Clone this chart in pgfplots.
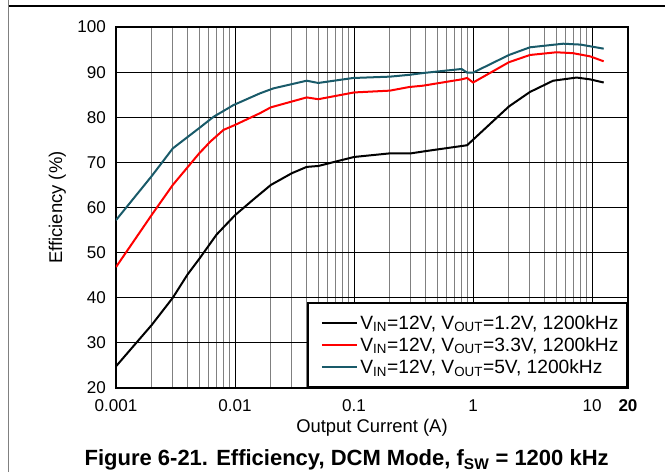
\documentclass[border=0pt]{standalone}
\usepackage{fontspec}
\setmainfont{Liberation Sans}
\usepackage{pgfplots}
\pgfplotsset{compat=1.18}
\definecolor{teal5}{RGB}{25,90,105}
\definecolor{mgrid}{RGB}{128,128,128}
\begin{document}
\begin{tikzpicture}
\useasboundingbox (0,0) rectangle (498.75pt,354pt);
\draw[mgrid, line width=1.1pt] (6.4pt,0) -- (6.4pt,354pt);
\draw[black, line width=0.8pt] (6.4pt,349.5pt) -- (498.75pt,349.5pt);
\node[font=\fontsize{16.5}{18}\selectfont\bfseries] at (260pt,9pt) {Figure 6-21. Efficiency, DCM Mode, f\textsubscript{SW} = 1200 kHz};
\begin{axis}[
  at={(87pt,63pt)}, anchor=south west,
  scale only axis, width=384pt, height=270.75pt,
  xmode=log, xmin=0.001, xmax=20, ymin=20, ymax=100,
  log basis x=10,
  xtick={0.001,0.01,0.1,1,10,20},
  xticklabels={0.001,0.01,0.1,1,10,\textbf{20}},
  minor xtick={0.002,0.003,0.004,0.005,0.006,0.007,0.008,0.009,0.02,0.03,0.04,0.05,0.06,0.07,0.08,0.09,0.2,0.3,0.4,0.5,0.6,0.7,0.8,0.9,2,3,4,5,6,7,8,9},
  ytick={20,30,40,50,60,70,80,90,100},
  /pgf/number format/assume math mode=true,
  tick label style={font=\fontsize{12.8}{14}\selectfont},
  label style={font=\fontsize{13.8}{15}\selectfont},
  major tick length=0pt, minor tick length=0pt,
  grid=both,
  major grid style={black, line width=0.7pt},
  minor grid style={mgrid, line width=0.75pt},
  axis line style={line width=1.6pt},
  yticklabel style={xshift=-4pt},
  xticklabel style={yshift=-5pt},
  xlabel={Output Current (A)},
  ylabel={Efficiency (\%)},
  xlabel style={at={(axis description cs:0.5,-0.111)}, anchor=center},
  ylabel style={at={(axis description cs:-0.1146,0.5)}, anchor=center, rotate=0},
  legend cell align=left,
  legend style={at={(1,0)}, anchor=south east, draw=black, line width=1.3pt,
    font=\fontsize{14.4}{16.5}\selectfont, inner xsep=4.5pt, inner ysep=7pt, row sep=0.6pt,
    /tikz/every even column/.append style={column sep=1.5pt}},
  legend image code/.code={\draw[#1, line width=1.6pt] (0pt,0pt) ++(5pt,0pt) -- ++(26pt,0pt);},
]
\addplot[black, line width=1.5pt] coordinates {
(0.001,24.8) (0.002,34.0) (0.003,40.0) (0.004,45.2) (0.005,48.6) (0.007,54.0) (0.01,58.3) (0.014,61.6) (0.02,65.0) (0.03,67.6) (0.04,69.0) (0.05,69.2) (0.1,71.2) (0.2,72.0) (0.3,72.0) (0.4,72.5) (0.89,73.8) (2,82.4) (3,85.6) (4.7,88.1) (7.4,88.8) (9.6,88.4) (12.5,87.7)
};
\addlegendentry{V\textsubscript{IN}=12V, V\textsubscript{OUT}=1.2V, 1200kHz}
\addplot[red, line width=1.5pt] coordinates {
(0.001,46.8) (0.002,58.4) (0.003,65.0) (0.005,72.0) (0.0062,74.6) (0.008,77.2) (0.01,78.3) (0.0162,80.9) (0.02,82.2) (0.04,84.4) (0.05,84.0) (0.1,85.5) (0.2,85.9) (0.29,86.7) (0.38,87.0) (0.8,88.4) (0.89,88.7) (1.0,87.7) (2,92.2) (3,93.8) (5,94.4) (6.9,94.2) (9.6,93.5) (12.5,92.4)
};
\addlegendentry{V\textsubscript{IN}=12V, V\textsubscript{OUT}=3.3V, 1200kHz}
\addplot[teal5, line width=1.5pt] coordinates {
(0.001,57.2) (0.002,67.0) (0.003,73.1) (0.005,77.6) (0.0066,80.1) (0.0097,82.7) (0.0162,85.3) (0.021,86.4) (0.04,88.1) (0.05,87.6) (0.098,88.7) (0.2,89.0) (0.29,89.4) (0.38,89.8) (0.8,90.7) (0.89,89.9) (1.0,89.9) (2,93.8) (3,95.5) (5.7,96.3) (8,96.1) (12.5,95.2)
};
\addlegendentry{V\textsubscript{IN}=12V, V\textsubscript{OUT}=5V, 1200kHz}
\end{axis}
\end{tikzpicture}
\end{document}
